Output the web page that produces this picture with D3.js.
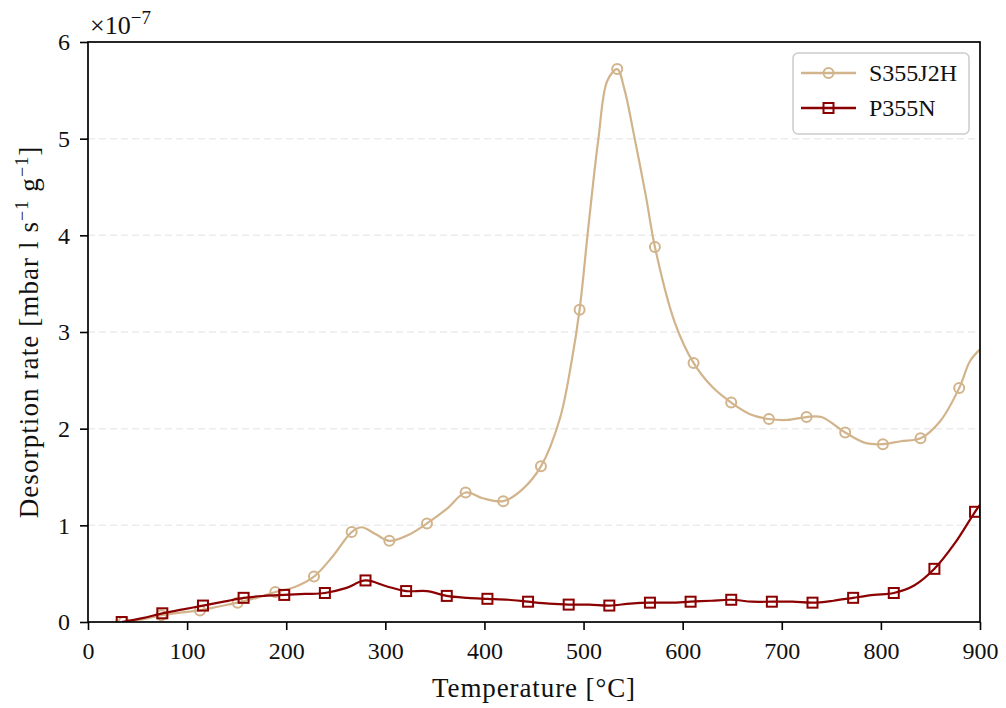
<!DOCTYPE html>
<html>
<head>
<meta charset="utf-8">
<script src="https://cdn.jsdelivr.net/npm/d3@7"></script>
<style>
  body { margin: 0; background: #fff; }
  text { font-family: "Liberation Serif", "DejaVu Serif", serif; fill: #111; }
</style>
</head>
<body>
<svg id="chart" width="1006" height="708"></svg>
<script>
// values are in units of 1e-7 mbar l s^-1 g^-1
const sTemp = [36, 56, 74, 95, 113, 132, 151, 170, 189, 208, 228, 247, 266, 276, 290, 304, 323, 342, 362, 381, 398,
  419, 438, 457, 476, 488, 496, 505, 515, 524, 534, 541, 552, 563, 572, 592, 611, 630, 649, 668, 687, 706, 725, 740,
  764, 785, 802, 820, 840, 860, 879, 890, 900];
const sRate = [0.00, 0.03, 0.07, 0.10, 0.12, 0.16, 0.20, 0.25, 0.31, 0.36, 0.47, 0.68, 0.93, 0.98, 0.91, 0.84, 0.90,
  1.02, 1.17, 1.34, 1.28, 1.25, 1.37, 1.61, 2.10, 2.70, 3.23, 4.10, 5.00, 5.60, 5.72, 5.52, 4.98, 4.40, 3.88, 3.10,
  2.68, 2.43, 2.27, 2.15, 2.10, 2.09, 2.12, 2.12, 1.96, 1.85, 1.84, 1.87, 1.90, 2.08, 2.42, 2.70, 2.82];
const sMarkTemp = [36, 74, 113, 151, 189, 228, 266, 304, 342, 381, 419, 457, 496, 534, 572, 611, 649, 687, 725, 764, 802, 840, 879];

const pTemp = [34, 55, 75, 96, 116, 137, 157, 178, 198, 219, 239, 260, 280, 301, 321, 342, 362, 383, 403, 424, 444,
  465, 485, 506, 526, 547, 567, 588, 608, 629, 649, 670, 690, 711, 731, 752, 772, 793, 813, 834, 854, 875, 895, 900];
const pRate = [0.00, 0.04, 0.09, 0.13, 0.17, 0.21, 0.25, 0.27, 0.28, 0.29, 0.30, 0.35, 0.43, 0.37, 0.32, 0.32, 0.27,
  0.25, 0.24, 0.23, 0.21, 0.19, 0.18, 0.18, 0.17, 0.19, 0.20, 0.20, 0.21, 0.22, 0.23, 0.21, 0.21, 0.21, 0.20, 0.22,
  0.25, 0.28, 0.30, 0.38, 0.55, 0.82, 1.14, 1.21];
const pMarkTemp = [34, 75, 116, 157, 198, 239, 280, 321, 362, 403, 444, 485, 526, 567, 608, 649, 690, 731, 772, 813, 854, 895];

const xTicks = [0, 100, 200, 300, 400, 500, 600, 700, 800, 900];
const yTicks = [0, 1, 2, 3, 4, 5, 6];
const gridTicks = [1, 2, 3, 4, 5];

const seriesNames = ['S355J2H', 'P355N'];
const seriesColors = ['#d2b48c', '#8b0000'];

const width = 1006;
const height = 708;
const margin = { top: 42, right: 26, bottom: 86, left: 88 };

const svg = d3.select('#chart');

const x = d3.scaleLinear()
  .domain([0, 900])
  .range([margin.left, width - margin.right]);

const y = d3.scaleLinear()
  .domain([0, 6])
  .range([height - margin.bottom, margin.top]);

const toPoints = (t, v) => t.map((d, i) => ({ t: d, v: v[i] }));
const series = [
  { name: seriesNames[0], color: seriesColors[0], pts: toPoints(sTemp, sRate), marks: sMarkTemp, shape: 'circle' },
  { name: seriesNames[1], color: seriesColors[1], pts: toPoints(pTemp, pRate), marks: pMarkTemp, shape: 'square' },
];

svg.append('clipPath')
  .attr('id', 'plotclip')
  .append('rect')
  .attr('x', margin.left)
  .attr('y', margin.top)
  .attr('width', width - margin.left - margin.right)
  .attr('height', height - margin.top - margin.bottom);

// dashed horizontal grid
svg.append('g')
  .selectAll('line')
  .data(gridTicks)
  .enter()
  .append('line')
  .attr('x1', margin.left)
  .attr('x2', width - margin.right)
  .attr('y1', (d) => y(d))
  .attr('y2', (d) => y(d))
  .attr('stroke', '#ececec')
  .attr('stroke-width', 1.5)
  .attr('stroke-dasharray', '7,4');

const line = d3.line()
  .x((d) => x(d.t))
  .y((d) => y(d.v))
  .curve(d3.curveCatmullRom.alpha(0.5));

// interpolate a value on the curve for the marker temps
const valueAt = (pts, t) => {
  const i = pts.findIndex((p) => p.t >= t);
  if (i <= 0) return pts[0].v;
  const a = pts[i - 1], b = pts[i];
  return a.v + (b.v - a.v) * (t - a.t) / (b.t - a.t);
};

const drawMarker = (g, shape, cx, cy, color) => {
  if (shape === 'circle') {
    g.append('circle')
      .attr('cx', cx).attr('cy', cy).attr('r', 5)
      .attr('fill', 'none').attr('stroke', color).attr('stroke-width', 2);
  } else {
    g.append('rect')
      .attr('x', cx - 5).attr('y', cy - 5).attr('width', 10).attr('height', 10)
      .attr('fill', 'none').attr('stroke', color).attr('stroke-width', 2);
  }
};

const plot = svg.append('g').attr('clip-path', 'url(#plotclip)');

for (const s of series) {
  plot.append('path')
    .datum(s.pts)
    .attr('fill', 'none')
    .attr('stroke', s.color)
    .attr('stroke-width', 2.2)
    .attr('d', line);
  const mg = plot.append('g');
  for (const t of s.marks) {
    drawMarker(mg, s.shape, x(t), y(valueAt(s.pts, t)), s.color);
  }
}

// axes
const bottomAxis = d3.axisBottom(x)
  .tickValues(xTicks)
  .tickSize(8)
  .tickPadding(12)
  .tickFormat(d3.format('d'));

const leftAxis = d3.axisLeft(y)
  .tickValues(yTicks)
  .tickSize(8)
  .tickPadding(10)
  .tickFormat(d3.format('d'));

const gx = svg.append('g')
  .attr('transform', `translate(0, ${height - margin.bottom})`)
  .call(bottomAxis);

const gy = svg.append('g')
  .attr('transform', `translate(${margin.left}, 0)`)
  .call(leftAxis);

for (const g of [gx, gy]) {
  g.select('.domain').remove();
  g.selectAll('.tick line').attr('stroke', '#000').attr('stroke-width', 1.6);
  g.selectAll('.tick text')
    .attr('fill', '#111')
    .style('font-size', '24px')
    .style('font-family', '"Liberation Serif", serif');
}

// frame
svg.append('rect')
  .attr('x', margin.left)
  .attr('y', margin.top)
  .attr('width', width - margin.left - margin.right)
  .attr('height', height - margin.top - margin.bottom)
  .attr('fill', 'none')
  .attr('stroke', '#000')
  .attr('stroke-width', 1.7);

// offset text
const offset = svg.append('text')
  .attr('x', margin.left + 2)
  .attr('y', 34)
  .style('font-size', '26px');
offset.append('tspan').text('×10');
offset.append('tspan').attr('dy', -10).style('font-size', '19px').text('−7');

// axis labels
svg.append('text')
  .attr('x', (margin.left + width - margin.right) / 2)
  .attr('y', 697)
  .attr('text-anchor', 'middle')
  .style('font-size', '27px')
  .style('letter-spacing', '0.9px')
  .text('Temperature [°C]');

const ylab = svg.append('text')
  .attr('transform', `translate(38, ${(margin.top + height - margin.bottom) / 2}) rotate(-90)`)
  .attr('text-anchor', 'middle')
  .style('font-size', '27px')
  .style('letter-spacing', '1.1px');
ylab.append('tspan').text('Desorption rate [mbar l s');
ylab.append('tspan').attr('dy', -10).style('font-size', '18px').text('−1');
ylab.append('tspan').attr('dy', 10).text(' g');
ylab.append('tspan').attr('dy', -10).style('font-size', '18px').text('−1');
ylab.append('tspan').attr('dy', 10).text(']');

// legend
const legend = svg.append('g');
legend.append('rect')
  .attr('x', 793)
  .attr('y', 53)
  .attr('width', 176)
  .attr('height', 81)
  .attr('rx', 5)
  .attr('fill', 'rgba(255,255,255,0.85)')
  .attr('stroke', '#cccccc')
  .attr('stroke-width', 1.5);

series.forEach((s, i) => {
  const ly = 73 + i * 35;
  legend.append('line')
    .attr('x1', 801).attr('x2', 856)
    .attr('y1', ly).attr('y2', ly)
    .attr('stroke', s.color)
    .attr('stroke-width', 2.5);
  drawMarker(legend, s.shape, 828.5, ly, s.color);
  legend.append('text')
    .attr('x', 869)
    .attr('y', ly + 8)
    .style('font-size', '24px')
    .text(s.name);
});
</script>
</body>
</html>
